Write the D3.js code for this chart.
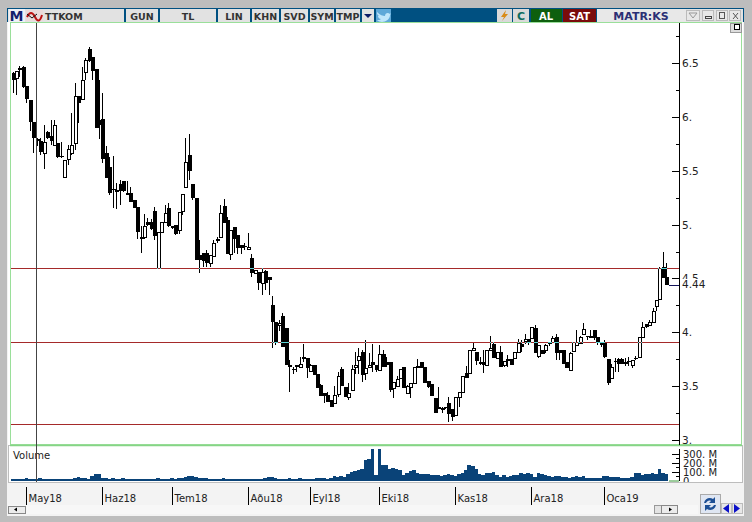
<!DOCTYPE html>
<html><head><meta charset="utf-8">
<script src="https://cdn.jsdelivr.net/npm/d3@7"></script>
<style>html,body{margin:0;padding:0;background:#bdbdbd}svg{display:block}text{font-family:"DejaVu Sans",sans-serif}</style>
</head><body><svg id="c" width="752" height="522"></svg>
<script>
const opens=[6.41,6.36,6.44,6.46,6.29,6.16,5.95,5.79,5.78,5.66,5.86,5.82,5.74,5.76,5.64,5.44,5.61,5.66,5.76,6.19,6.17,6.42,6.63,6.56,6.44,5.97,5.98,5.66,5.53,5.33,5.32,5.38,5.40,5.28,5.29,5.23,5.16,4.88,4.88,5.02,5.02,5.13,4.60,4.93,5.02,5.15,4.99,5.00,4.95,5.13,5.35,5.65,5.38,5.25,4.72,4.74,4.74,4.64,4.71,4.87,4.88,5.17,5.04,4.73,4.98,4.90,4.81,4.80,4.77,4.69,4.55,4.56,4.46,4.57,4.51,4.25,4.10,4.07,4.15,4.04,3.70,3.66,3.70,3.68,3.77,3.76,3.64,3.70,3.61,3.51,3.44,3.42,3.37,3.34,3.43,3.66,3.49,3.40,3.46,3.68,3.74,3.82,3.62,3.68,3.72,3.70,3.65,3.80,3.72,3.72,3.48,3.50,3.58,3.68,3.44,3.49,3.53,3.69,3.72,3.68,3.55,3.52,3.39,3.31,3.30,3.31,3.34,3.29,3.23,3.40,3.45,3.62,3.62,3.84,3.82,3.72,3.72,3.70,3.84,3.89,3.76,3.82,3.70,3.75,3.75,3.76,3.82,3.89,3.92,3.94,3.95,4.04,3.78,3.84,3.84,3.91,3.91,3.96,3.84,3.84,3.72,3.65,3.83,3.88,3.90,3.98,3.97,3.96,4.02,3.96,3.91,3.90,3.75,3.58,3.73,3.75,3.75,3.72,3.73,3.70,3.76,3.77,3.96,4.08,4.07,4.10,4.24,4.31,4.61,4.51];
const highs=[6.42,6.43,6.47,6.47,6.29,6.16,5.95,5.80,5.80,5.92,5.87,5.97,5.97,5.76,5.77,5.60,5.74,6.04,6.31,6.19,6.46,6.55,6.65,6.56,6.44,6.34,6.22,5.73,5.63,5.64,5.39,5.41,5.40,5.40,5.35,5.23,5.16,4.99,5.10,5.06,5.05,5.16,4.93,5.02,5.18,5.20,4.99,5.00,5.12,5.28,5.80,5.84,5.38,5.25,4.86,4.74,4.76,4.72,4.86,4.88,5.18,5.24,5.07,4.95,4.98,4.90,4.81,4.83,4.92,4.73,4.58,4.56,4.60,4.58,4.51,4.34,4.10,4.11,4.18,4.04,3.74,3.68,3.70,3.77,3.89,3.76,3.71,3.70,3.61,3.52,3.44,3.45,3.37,3.50,3.63,3.68,3.49,3.53,3.70,3.82,3.85,3.84,3.93,3.81,3.89,3.70,3.88,3.84,3.77,3.72,3.54,3.59,3.66,3.68,3.51,3.53,3.68,3.75,3.72,3.68,3.55,3.52,3.39,3.49,3.31,3.31,3.40,3.29,3.40,3.45,3.59,3.69,3.84,3.90,3.82,3.77,3.84,3.84,3.97,3.91,3.82,3.87,3.73,3.79,3.75,3.82,3.94,3.93,3.98,3.94,4.05,4.07,3.88,3.84,3.89,3.91,3.97,3.98,3.84,3.84,3.72,3.82,3.91,4.02,3.97,4.09,3.97,4.02,4.02,3.96,3.91,3.93,3.75,3.71,3.76,3.76,3.76,3.76,3.77,3.74,3.78,3.96,4.10,4.08,4.11,4.23,4.30,4.61,4.75,4.64];
const lows=[6.22,6.20,6.37,6.27,6.13,5.87,5.66,5.73,5.65,5.52,5.79,5.74,5.73,5.62,5.62,5.44,5.55,5.65,5.69,5.94,6.17,6.34,6.51,6.34,5.90,5.79,5.57,5.43,5.27,5.15,5.14,5.18,5.30,5.28,5.21,5.15,4.87,4.74,4.87,4.99,4.95,4.86,4.60,4.92,5.01,4.98,4.96,4.90,4.91,5.09,5.35,5.41,5.23,4.67,4.55,4.61,4.61,4.61,4.71,4.83,4.88,5.01,4.73,4.67,4.74,4.73,4.73,4.76,4.77,4.51,4.55,4.39,4.35,4.39,4.35,3.85,3.88,4.01,3.86,3.70,3.45,3.61,3.63,3.68,3.72,3.58,3.64,3.60,3.48,3.41,3.34,3.35,3.31,3.34,3.40,3.50,3.40,3.37,3.46,3.61,3.61,3.54,3.56,3.68,3.63,3.63,3.65,3.68,3.68,3.45,3.39,3.50,3.58,3.48,3.44,3.39,3.53,3.67,3.67,3.53,3.48,3.41,3.25,3.29,3.25,3.29,3.17,3.18,3.23,3.31,3.45,3.58,3.62,3.84,3.70,3.70,3.62,3.70,3.84,3.76,3.76,3.68,3.68,3.68,3.70,3.76,3.82,3.82,3.89,3.88,3.95,3.81,3.76,3.80,3.81,3.87,3.91,3.74,3.74,3.71,3.67,3.65,3.83,3.88,3.90,3.98,3.93,3.95,3.93,3.88,3.86,3.76,3.51,3.58,3.63,3.63,3.71,3.69,3.69,3.67,3.74,3.76,3.96,4.04,4.06,4.10,4.20,4.31,4.50,4.44];
const closes=[6.34,6.43,6.45,6.28,6.17,5.95,5.80,5.78,5.67,5.77,5.80,5.78,5.92,5.63,5.63,5.60,5.70,5.74,6.19,6.13,6.34,6.53,6.52,6.43,5.90,5.92,5.61,5.43,5.29,5.32,5.30,5.31,5.31,5.29,5.21,5.15,4.93,4.87,4.99,5.00,4.96,4.89,4.93,5.02,5.11,4.99,4.97,4.91,5.12,5.28,5.58,5.50,5.25,4.67,4.67,4.66,4.64,4.72,4.83,4.85,5.11,5.01,4.73,4.95,4.87,4.78,4.78,4.79,4.79,4.55,4.58,4.46,4.56,4.46,4.49,4.10,3.90,4.09,3.86,3.70,3.68,3.65,3.68,3.71,3.75,3.67,3.70,3.60,3.48,3.41,3.41,3.35,3.31,3.42,3.59,3.50,3.40,3.44,3.66,3.70,3.78,3.60,3.67,3.70,3.70,3.65,3.80,3.68,3.70,3.46,3.54,3.57,3.66,3.48,3.50,3.53,3.68,3.67,3.67,3.53,3.49,3.41,3.25,3.29,3.30,3.30,3.24,3.21,3.40,3.45,3.59,3.58,3.84,3.85,3.73,3.71,3.70,3.84,3.85,3.76,3.82,3.68,3.73,3.73,3.70,3.82,3.90,3.86,3.94,3.91,4.05,3.81,3.88,3.80,3.88,3.89,3.95,3.81,3.81,3.71,3.67,3.81,3.91,3.91,3.96,4.03,3.96,3.97,3.95,3.91,3.88,3.77,3.53,3.68,3.72,3.71,3.71,3.72,3.72,3.74,3.75,3.96,4.05,4.05,4.10,4.20,4.30,4.60,4.50,4.44];
const volumes=[20,22,18,24,26,20,18,22,25,20,18,16,20,22,18,16,20,24,30,36,34,30,22,55,80,80,35,25,22,26,20,22,28,24,18,20,22,16,20,24,18,22,26,20,18,22,28,24,30,35,45,55,50,40,30,28,35,22,18,20,22,25,20,18,22,24,20,22,20,22,24,20,24,30,40,42,30,22,18,24,26,20,22,25,20,18,22,20,28,30,26,24,35,50,45,50,45,80,100,110,115,125,235,240,350,60,350,175,170,135,140,130,120,60,85,110,115,90,75,70,75,65,60,60,50,60,75,65,50,70,85,120,170,160,130,70,60,85,85,95,60,40,60,45,55,60,65,85,75,90,70,45,85,80,60,50,45,50,55,45,40,35,40,50,45,55,30,25,28,30,35,55,50,40,40,45,35,30,35,40,90,85,65,70,80,85,80,130,85,75];
const priceTicks=[3,3.5,4,4.5,5,5.5,6,6.5];
const priceTickLabels=["3.","3.5","4.","4.5","5.","5.5","6.","6.5"];
const minorPriceTicks=[3.25,3.75,4.25,4.75,5.25,5.75,6.25,6.75];
const supportLevels=[4.60,3.91,3.145];
const lastPrice=4.44;
const monthIndex=[4,26,46,68,86,106,128,150,171];
const monthLabels=["May18","Haz18","Tem18","Aðu18","Eyl18","Eki18","Kas18","Ara18","Oca19"];
const volumeTicks=[0,100,200,300];
const volumeTickLabels=["0","100. M","200. M","300. M"];
const minorVolumeTicks=[50,150,250];
const cursorIndex=7;
const toolButtons=[["GUN",126,158],["TL",160,216],["LIN",218,250],["KHN",252,279],["SVD",281,308],["SYM",310,334],["TMP",336,360]];

const svg=d3.select("#c");
const rect=(x,y,w,h,f,s)=>svg.append("rect").attr("x",x).attr("y",y).attr("width",w).attr("height",h).attr("fill",f).attr("stroke",s||"none").attr("shape-rendering","crispEdges");
const txt=(x,y,t,fs,f,w,a)=>svg.append("text").attr("x",x).attr("y",y).text(t).attr("font-size",fs).attr("fill",f||"#222").attr("font-weight",w||"normal").attr("text-anchor",a||"start");

// window frame
rect(0,0,752,522,"#bdbdbd");
rect(7,8,737,508,"#f3f3f3");
rect(8,22,735,461,"#ffffff");

const xs=d3.scaleLinear().domain([0,opens.length-1]).range([12.5,666.4]);
const ys=d3.scaleLinear().domain([3,6.5]).range([440,63]);
const yv=d3.scaleLinear().domain([0,300]).range([480.7,453.7]);
const px=i=>Math.round(xs(i));

// horizontal levels
const levelY=d=>Math.round(ys(d));
svg.append("g").attr("shape-rendering","crispEdges").selectAll("line").data(supportLevels).join("line")
  .attr("x1",10).attr("x2",679).attr("y1",d=>levelY(d)+.5).attr("y2",d=>levelY(d)+.5).attr("stroke","#a52a2a");

// candles
const g=svg.append("g").attr("shape-rendering","crispEdges");
opens.forEach((o,i)=>{
  const c=closes[i],up=c>=o,t=Math.round(ys(Math.max(o,c))),b=Math.round(ys(Math.min(o,c)));
  g.append("line").attr("x1",px(i)+.5).attr("x2",px(i)+.5).attr("y1",Math.round(ys(highs[i]))).attr("y2",Math.round(ys(lows[i]))).attr("stroke","#000");
  if(up) g.append("rect").attr("x",px(i)-.5).attr("y",t+.5).attr("width",3).attr("height",Math.max(b-t,1)).attr("fill","#fff").attr("stroke","#000");
  else g.append("rect").attr("x",px(i)-1).attr("y",t).attr("width",4).attr("height",Math.max(b-t,1)).attr("fill","#000");
  // the level line shows cyan where it runs over a black pixel, red elsewhere
  supportLevels.forEach(l=>{
    const ly=levelY(l);
    if(ly<t||ly>b) { if(ly>=Math.round(ys(highs[i]))&&ly<=Math.round(ys(lows[i]))) g.append("rect").attr("x",px(i)).attr("y",ly).attr("width",1).attr("height",1).attr("fill","#5ad5d5"); return; }
    if(up){ g.append("rect").attr("x",px(i)-1).attr("y",ly).attr("width",4).attr("height",1).attr("fill","#a52a2a");
      [px(i)-1,px(i)+2].forEach(a=>g.append("rect").attr("x",a).attr("y",ly).attr("width",1).attr("height",1).attr("fill","#5ad5d5")); }
    else g.append("rect").attr("x",px(i)-1).attr("y",ly).attr("width",4).attr("height",1).attr("fill","#5ad5d5");
  });
});

// volume
svg.append("g").attr("shape-rendering","crispEdges").selectAll("rect").data(volumes).join("rect")
  .attr("x",(d,i)=>xs(i)-1.73).attr("width",3.6).attr("y",d=>yv(d)).attr("height",d=>yv(0)-yv(d)).attr("fill","#0a4378");
txt(13,459,"Volume",10,"#222");

// frames
rect(10.5,22.5,731,422,"none","#9adf9a");
rect(8.5,445.5,734,37,"none","#bdbdbd");
svg.append("line").attr("x1",10).attr("x2",742).attr("y1",445.5).attr("y2",445.5).attr("stroke","#86d486").attr("stroke-width",1.4);
svg.append("line").attr("x1",669).attr("x2",679).attr("y1",481).attr("y2",481).attr("stroke","#3a9a3a");

// cursor
svg.append("line").attr("x1",px(cursorIndex)-.5).attr("x2",px(cursorIndex)-.5).attr("y1",23).attr("y2",483).attr("stroke","#444").attr("shape-rendering","crispEdges");

// price axis
const ax=svg.append("g").attr("transform","translate(679.5,0)");
ax.append("g").call(d3.axisLeft(ys).tickValues(minorPriceTicks).tickSize(4).tickFormat("")).call(s=>s.select(".domain").remove());
ax.append("g").call(d3.axisLeft(ys).tickValues(priceTicks).tickSize(8).tickFormat("")).call(s=>s.select(".domain").remove());
ax.append("line").attr("y1",23).attr("y2",445).attr("stroke","#000");
ax.selectAll("line").attr("shape-rendering","crispEdges");
const lab=svg.append("g");
priceTicks.forEach((v,i)=>{lab.append("text").attr("x",682).attr("y",ys(v)+4).text(priceTickLabels[i]).attr("font-size",10.5).attr("fill","#222");});
rect(681,279,30,11,"#fff");
svg.append("line").attr("x1",669).attr("x2",679).attr("y1",ys(lastPrice)+.5).attr("y2",ys(lastPrice)+.5).attr("stroke","#12125a").attr("shape-rendering","crispEdges");
txt(682,288,lastPrice.toFixed(2),10.5,"#222");
// clip "3." bottom by the frame
rect(681,445.8,40,3,"#fff");
svg.append("line").attr("x1",681).attr("x2",721).attr("y1",445.5).attr("y2",445.5).attr("stroke","#86d486").attr("stroke-width",1.4);

// volume axis
const av=svg.append("g").attr("transform","translate(679.5,0)");
av.append("g").call(d3.axisLeft(yv).tickValues(minorVolumeTicks).tickSize(4).tickFormat("")).call(s=>s.select(".domain").remove());
av.append("g").call(d3.axisLeft(yv).tickValues(volumeTicks.slice(1)).tickSize(8).tickFormat("")).call(s=>s.select(".domain").remove());
av.append("line").attr("y1",449).attr("y2",481).attr("stroke","#000");
av.selectAll("line").attr("shape-rendering","crispEdges");
volumeTicks.forEach((v,i)=>txt(683,yv(v)+4,volumeTickLabels[i],10,"#222"));
rect(681,481.5,40,8,"#f3f3f3");
svg.append("line").attr("x1",8).attr("x2",742).attr("y1",482.5).attr("y2",482.5).attr("stroke","#bdbdbd").attr("shape-rendering","crispEdges");

// month axis
const am=svg.append("g");
monthIndex.forEach((m,i)=>{
  am.append("line").attr("x1",px(m)).attr("x2",px(m)).attr("y1",487).attr("y2",505).attr("stroke","#000").attr("shape-rendering","crispEdges").attr("transform","translate(.5,0)");
  am.append("text").attr("x",px(m)+2.5).attr("y",502).text(monthLabels[i]).attr("font-size",10).attr("fill","#222");
});
// scrollbar strip
rect(8,505,690,9,"#f7f7f7");
rect(8.5,506.5,17,6.5,"#ececec","#888");
svg.append("path").attr("d","M14 509.5l3-2v4z").attr("fill","#000");
rect(654.5,505.5,7,7.5,"#e4e4e4","#999");
rect(661.5,505.5,16,7.5,"#ececec","#888");
svg.append("path").attr("d","M669 507.5l3 2-3 2z").attr("fill","#000");

// refresh + arrows
rect(700.5,494.5,20,19,"#dfe6f2","#aaa");
svg.append("path").attr("d","M704 503c1-5 6-6 9-4l2-2v6h-6l2-2c-2-1-4 0-5 2zM716 505c-1 5-6 6-9 4l-2 2v-6h6l-2 2c2 1 4 0 5-2z").attr("fill","#1c4f95");
rect(721.5,503.5,10,10,"#e8e8e8","#bbb");
svg.append("path").attr("d","M723 508.5l6-4.5v9z").attr("fill","#0b10c8");
rect(732.5,503.5,10,10,"#e8e8e8","#bbb");
svg.append("path").attr("d","M734 504l6 4.5-6 4.5z").attr("fill","#0b10c8");

// title bar
rect(7,8,737,14,"#005081");
rect(8,9,116,12.5,"#e2e2e2");
rect(9,9,16,13,"#eef0f6");
txt(9.5,21,"M",14,"#14206e","bold");
rect(26,10,17,11,"#e9dada");
svg.append("path").attr("d","M27 17q4-8 8 0t7-2").attr("fill","none").attr("stroke","#b11").attr("stroke-width",2);
svg.append("path").attr("d","M27 14l5 4 5-4").attr("fill","none").attr("stroke","#111");
txt(45,19.5,"TTKOM",9.5,"#333","bold");
toolButtons.forEach(([t,a,b])=>{rect(a,9,b-a,12.5,"#e2e2e2");txt((a+b)/2,19.5,t,9.5,"#333","bold","middle");});
rect(362,9,12,12.5,"#e2e2e2");
svg.append("path").attr("d","M364 14h8l-4 4z").attr("fill","#0c1a66");
rect(376,9,15,13,"#5ea8d8");
svg.append("path").attr("d","M377 12c3 3 6 4 8 4 0-3 3-4 5-2l1-1-1 2c0 4-4 7-8 7-2 0-4-1-5-2 2 0 3 0 4-1-2 0-3-2-3-3l1 0c-2-1-2-3-2-4z").attr("fill","#bfe6fb");
rect(497,9,15,13,"#d9d9d9");
svg.append("path").attr("d","M506 10l-5 7h3l-2 4 6-7h-3z").attr("fill","#d98a16");
rect(513,9,16,13,"#d9d9d9");
txt(521,19.5,"C",11,"#0d6b5e","bold","middle");
rect(531,9,31,13,"#0e5f0e");
txt(546,19.5,"AL",10,"#fff","bold","middle");
rect(563,9,33,13,"#7a0b0b");
txt(579.5,19.5,"SAT",10,"#fff","bold","middle");
rect(597,9,89,13,"#e8e8e8");
txt(641,20,"MATR:KS",11,"#2b2f74","bold","middle");
rect(686,9,57,13,"#e2e2e2");
rect(686.5,10.5,13,10,"#e8e8e8","#bbb");
svg.append("path").attr("d","M689 13h8l-4 5z").attr("fill","none").attr("stroke","#999");
rect(702.5,10.5,11,10,"#e8e8e8","#bbb");
rect(705,16,6,2,"none","#444");
rect(716.5,10.5,11,10,"#e8e8e8","#bbb");
rect(719.5,12.5,5,6,"none","#555");
rect(729.5,10.5,11,10,"#e8e8e8","#bbb");
svg.append("path").attr("d","M733 13l5 6m0-6l-5 6").attr("stroke","#555").attr("fill","none");
// corner tool
rect(730.5,23,11,9.5,"#ddd","#999");
rect(734.5,24.5,5,5,"#fff","#000");
</script></body></html>
